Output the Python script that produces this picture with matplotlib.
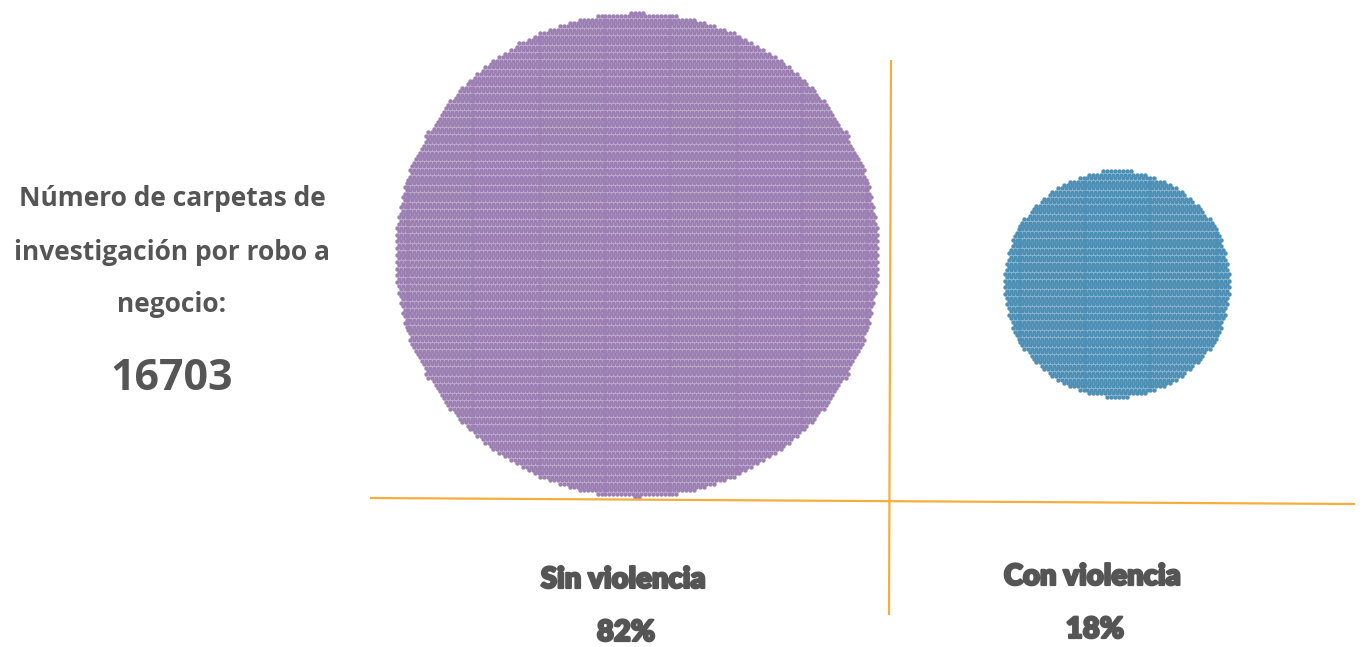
import numpy as np
import matplotlib.pyplot as plt
import matplotlib.patheffects as pe

# data
total_carpetas = 16703
categorias = ['Sin violencia', 'Con violencia']
porcentajes = [82, 18]
colores = ['#9c80b4', '#4d8fb5']

titulo = ['Número de carpetas de', 'investigación por robo a', 'negocio:']

W, H = 1364, 647
fig = plt.figure(figsize=(W / 100, H / 100), dpi=100)
ax = fig.add_axes([0, 0, 1, 1])
ax.set_xlim(0, W)
ax.set_ylim(H, 0)
ax.axis('off')

# one dot per carpeta, hex packed, spacing in px
d = 3.94


def hex_dots(n, cx, cy, step):
    # build a hex grid big enough and keep the n points closest to the centre
    r = np.sqrt(n * step * step * np.sqrt(3) / 2 / np.pi) + 3 * step
    rows = np.arange(-int(r / (step * np.sqrt(3) / 2)) - 1, int(r / (step * np.sqrt(3) / 2)) + 2)
    cols = np.arange(-int(r / step) - 2, int(r / step) + 3)
    ii, jj = np.meshgrid(cols, rows)
    xs = ii * step + (jj % 2) * step / 2
    ys = jj * step * np.sqrt(3) / 2
    xs, ys = xs.ravel(), ys.ravel()
    order = np.argsort(np.hypot(xs, ys), kind='stable')[:n]
    return cx + xs[order], cy + ys[order]


conteos = [round(total_carpetas * p / 100) for p in porcentajes]
conteos[1] = total_carpetas - conteos[0]
centros = [(637, 255), (1117, 284)]

s = (d * 0.72 * 1.12) ** 2
for n, (cx, cy), col in zip(conteos, centros, colores):
    x, y = hex_dots(n, cx, cy, d)
    ax.scatter(x, y, s=s, c=col, linewidths=0, marker='o')

# orange guide lines
naranja = '#f5ae3d'
ax.plot([370, 1355], [498, 504], color=naranja, lw=1.6, solid_capstyle='butt')
ax.plot([891, 889], [60, 615], color=naranja, lw=1.6, solid_capstyle='butt')

gris = '#555555'
for k, linea in enumerate(titulo):
    ax.text(172, 199 + k * 53, linea, ha='center', va='center', fontsize=19,
            family='Open Sans', fontweight='bold', color=gris)
ax.text(172, 378, f'{total_carpetas}', ha='center', va='center', fontsize=31,
        family='Open Sans', fontweight='bold', color=gris)

grueso = [pe.withStroke(linewidth=1.6, foreground=gris)]
label_x = [623, 1092]
label_y = [580, 577]
for cat, p, lx, ly in zip(categorias, porcentajes, label_x, label_y):
    ax.text(lx, ly, cat, ha='center', va='center', fontsize=21,
            family='Lato', fontweight='heavy', color=gris, path_effects=grueso)
    ax.text(lx + 3, ly + 53, f'{p}%', ha='center', va='center', fontsize=21,
            family='Lato', fontweight='heavy', color=gris, path_effects=grueso)

fig.savefig('out.png', dpi=100, facecolor='white')
